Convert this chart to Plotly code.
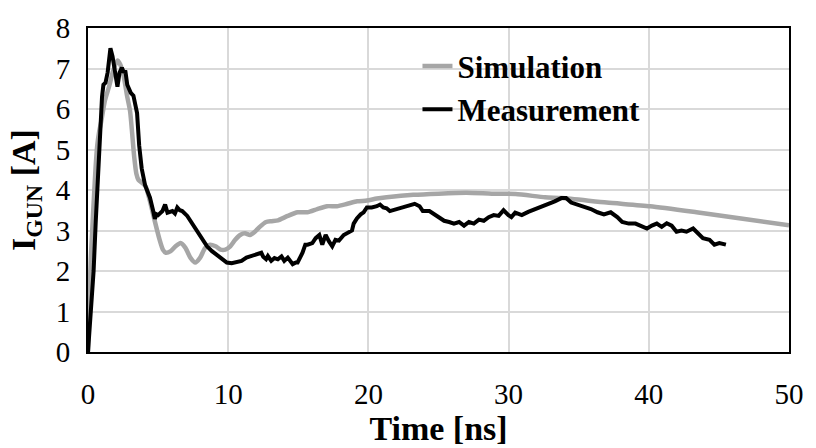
import plotly.graph_objects as go

# Simulation (gray)
sim_t = [0, 0.1, 0.2, 0.3, 0.42, 0.55, 0.66, 0.8, 0.95, 1.2, 1.5, 1.8, 2.1, 2.3, 2.55, 2.8, 3.0, 3.15, 3.3, 3.45, 3.6, 3.85, 4.1, 4.4, 4.75, 5.1, 5.35, 5.55, 5.9, 6.25, 6.6,
         6.95, 7.3, 7.65, 8.0, 8.35, 8.7, 9.1, 9.45, 9.8, 10.15, 10.5, 10.85, 11.2, 11.55, 11.9, 12.25, 12.7, 13.1, 13.55, 14.25, 14.95,
         15.65, 16.35, 17.05, 17.75, 18.5, 19.2, 19.9, 20.6, 21.3, 23.2, 25.0, 27.0, 28.8, 30.5, 32.6, 33.8, 37.0, 40.1, 43.4, 46.7, 50.0]
sim_i = [0, 1.3, 2.3, 3.0, 3.8, 4.6, 5.1, 5.45, 5.7, 6.2, 6.55, 6.95, 7.2, 7.1, 6.8, 6.3, 5.95, 5.4, 4.8, 4.4, 4.25, 4.18, 4.1, 3.75, 3.25, 2.78, 2.52, 2.45, 2.49, 2.61, 2.69,
         2.57, 2.33, 2.21, 2.33, 2.57, 2.65, 2.61, 2.53, 2.53, 2.61, 2.77, 2.89, 2.93, 2.89, 2.97, 3.09, 3.21, 3.23, 3.25, 3.36, 3.45,
         3.45, 3.53, 3.6, 3.6, 3.66, 3.72, 3.74, 3.79, 3.82, 3.88, 3.91, 3.93, 3.91, 3.9, 3.82, 3.8, 3.69, 3.6, 3.45, 3.29, 3.13]

# Measurement (black)
meas_t = [0, 0.15, 0.3, 0.4, 0.55, 0.75, 0.9, 1.0, 1.1, 1.25, 1.4, 1.6, 1.75, 1.95, 2.1, 2.25, 2.42, 2.55, 2.66, 2.8, 2.9, 3.05, 3.24, 3.4, 3.5, 3.65, 3.83,
          4.07, 4.42, 4.65, 4.77, 4.89, 5.0, 5.31, 5.5, 5.67, 6.02, 6.2, 6.37, 6.55, 6.72, 7.08, 7.43, 7.78, 8.13, 8.49, 8.84, 9.19, 9.54,
          9.9, 10.25, 10.6, 10.95, 11.3, 11.66, 12.01, 12.36, 12.5, 12.7, 12.83, 13.07, 13.3, 13.54, 13.8, 14.0, 14.25, 14.6, 14.83, 14.95, 15.3,
          15.5, 15.66, 15.9, 16.0, 16.24, 16.36, 16.5, 16.71, 16.95, 17.19, 17.42, 17.65, 17.9, 18.24, 18.6, 18.83, 18.95, 19.18, 19.45,
          19.66, 19.89, 20.24, 20.6, 20.83, 21.06, 21.3, 21.53, 22.0, 22.47, 22.94, 23.3, 23.65, 23.88, 24.35, 24.7, 25.06, 25.4, 25.76,
          26.1, 26.47, 26.82, 27.17, 27.52, 27.88, 28.23, 28.58, 28.94, 29.29, 29.64, 29.99, 30.2, 30.47, 30.94, 31.4, 31.88, 32.35,
          32.8, 33.29, 33.76, 34.1, 34.46, 34.93, 35.4, 35.87, 36.34, 36.8, 37.28, 37.75, 38.1, 38.57, 39.05, 39.52, 39.87, 40.22,
          40.57, 40.92, 41.28, 41.63, 41.98, 42.33, 42.69, 43.16, 43.5, 43.86, 44.33, 44.68, 45.03, 45.5]
meas_i = [0, 0.7, 1.3, 2.0, 3.2, 4.7, 5.6, 6.3, 6.6, 6.65, 6.9, 7.5, 7.3, 6.8, 6.55, 6.9, 7.02, 6.9, 6.95, 6.6, 6.5, 6.4, 6.33, 6.05, 5.9, 5.1, 4.53,
          4.12, 3.81, 3.48, 3.29, 3.4, 3.38, 3.48, 3.64, 3.44, 3.48, 3.42, 3.57, 3.5, 3.48, 3.36, 3.17, 2.97, 2.77, 2.61, 2.49, 2.4, 2.33,
          2.21, 2.19, 2.22, 2.25, 2.33, 2.37, 2.4, 2.45, 2.35, 2.29, 2.37, 2.25, 2.32, 2.29, 2.36, 2.25, 2.33, 2.17, 2.21, 2.21, 2.45,
          2.65, 2.65, 2.69, 2.69, 2.81, 2.85, 2.89, 2.65, 2.89, 2.73, 2.61, 2.77, 2.75, 2.89, 2.97, 3.0, 3.17, 3.3, 3.4,
          3.45, 3.57, 3.57, 3.6, 3.64, 3.57, 3.55, 3.48, 3.53, 3.57, 3.62, 3.66, 3.6, 3.48, 3.48, 3.4, 3.29, 3.24, 3.21,
          3.17, 3.21, 3.12, 3.21, 3.17, 3.27, 3.24, 3.33, 3.38, 3.36, 3.5, 3.38, 3.33, 3.44, 3.38, 3.46, 3.52, 3.6,
          3.64, 3.72, 3.8, 3.8, 3.69, 3.64, 3.6, 3.53, 3.45, 3.4, 3.45, 3.33, 3.21, 3.17, 3.17, 3.09, 3.05, 3.12,
          3.17, 3.09, 3.18, 3.12, 2.97, 3.0, 2.97, 3.05, 2.93, 2.81, 2.77, 2.65, 2.69, 2.65]

x_ticks = [0, 10, 20, 30, 40, 50]
y_ticks = [0, 1, 2, 3, 4, 5, 6, 7, 8]

FONT = "Liberation Serif"

fig = go.Figure()
fig.add_trace(go.Scatter(x=sim_t, y=sim_i, mode="lines", name="Simulation",
                         line=dict(color="#A6A6A6", width=4.5, shape="spline", smoothing=0.6)))
fig.add_trace(go.Scatter(x=meas_t, y=meas_i, mode="lines", name="Measurement",
                         line=dict(color="#000000", width=4)))

fig.update_layout(
    width=816, height=448,
    margin=dict(l=88, r=19, t=18, b=96),
    paper_bgcolor="white", plot_bgcolor="white",
    font=dict(family=FONT, color="black", size=29),
    showlegend=True,
    legend=dict(x=0.47, y=0.965, xanchor="left", yanchor="top",
                bgcolor="rgba(0,0,0,0)", font=dict(family=FONT, size=31, color="black", weight="bold"),
                tracegroupgap=0, itemwidth=30),
    xaxis=dict(range=[0, 50], tickvals=x_ticks, ticktext=[str(v) for v in x_ticks],
               showgrid=True, gridcolor="#D9D9D9", gridwidth=2,
               showline=True, linecolor="black", linewidth=2, mirror=True,
               zeroline=False, ticks="", ticklabelstandoff=15,
               tickfont=dict(family=FONT, size=29, color="black"),
               title=dict(text="Time [ns]", font=dict(family=FONT, size=34, color="black", weight="bold"), standoff=0)),
    yaxis=dict(range=[0, 8], tickvals=y_ticks, ticktext=[str(v) for v in y_ticks],
               showgrid=True, gridcolor="#D9D9D9", gridwidth=2,
               showline=True, linecolor="black", linewidth=2, mirror=True,
               zeroline=False, ticks="", ticklabelstandoff=10,
               tickfont=dict(family=FONT, size=29, color="black"),
               title=dict(text="I<sub>GUN</sub> [A]", font=dict(family=FONT, size=34, color="black", weight="bold"), standoff=10)),
)

fig.write_html("out.html")
